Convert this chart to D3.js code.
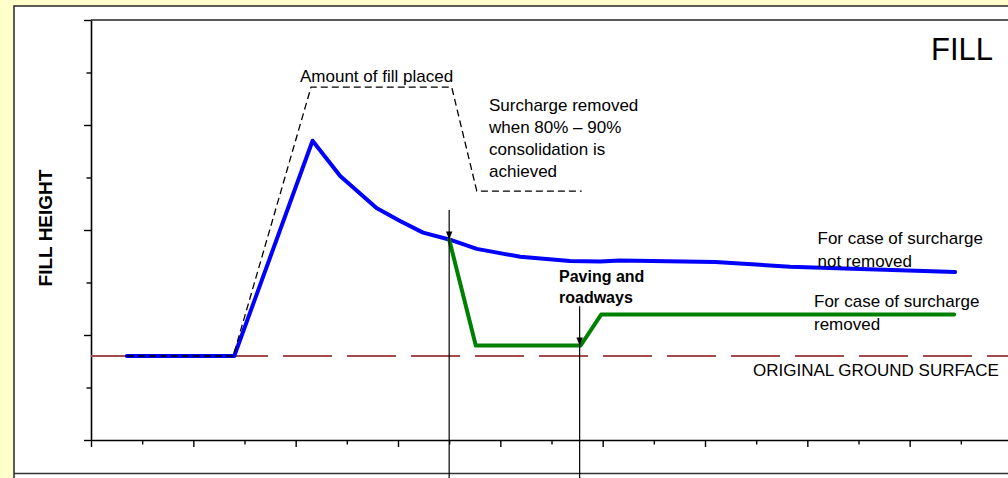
<!DOCTYPE html>
<html>
<head>
<meta charset="utf-8">
<script src="https://cdn.jsdelivr.net/npm/d3@7"></script>
<style>
  html, body { margin: 0; padding: 0; background: #FFFFCC; overflow: hidden; }
  svg { display: block; }
  text { font-family: "Liberation Sans", Arial, sans-serif; fill: #000; }
</style>
</head>
<body>
<svg id="chart" width="1008" height="478"></svg>
<script>
// ---- data ----
const xMajorTicks = [0, 2, 4, 6, 8, 10, 12, 14, 16];
const xMinorTicks = [1, 3, 5, 7, 9, 11, 13, 15, 17];
const yMajorTicks = [0, 2, 4, 6, 8];
const yMinorTicks = [1, 3, 5, 7];

const notRemovedX = [0.70, 2.80, 4.33, 4.87, 5.58, 6.04, 6.49, 7.00, 7.54, 8.39, 9.36, 9.95, 10.34, 12.20, 13.66, 16.89];
const notRemovedY = [1.60, 1.60, 5.70, 5.03, 4.42, 4.17, 3.95, 3.82, 3.64, 3.49, 3.41, 3.40, 3.42, 3.39, 3.30, 3.20];

const removedX = [7.00, 7.52, 9.57, 9.97, 16.87];
const removedY = [3.82, 1.80, 1.80, 2.39, 2.39];

const fillPlacedX = [0.70, 2.78, 4.30, 7.05, 7.54, 9.59];
const fillPlacedY = [1.60, 1.60, 6.72, 6.72, 4.74, 4.74];

const groundLevel = 1.6;

const arrowX    = [7.00, 9.55];
const arrowTopY = [4.38, 2.55];
const arrowTipY = [3.82, 1.80];

// ---- layout ----
const svg = d3.select("#chart");
const W = 1008, H = 478;

const x = d3.scaleLinear().domain([0, 18]).range([91, 1012]);
const y = d3.scaleLinear().domain([0, 8]).range([440, 20]);

// outer white panel
svg.append("rect")
  .attr("x", 14).attr("y", 6).attr("width", 1100).attr("height", 600)
  .attr("fill", "#fff").attr("stroke", "#333").attr("stroke-width", 1.6);
svg.append("line")
  .attr("x1", 14).attr("x2", 1100).attr("y1", 473.5).attr("y2", 473.5)
  .attr("stroke", "#333").attr("stroke-width", 1.6);

// plot top border
svg.append("line")
  .attr("x1", x(0)).attr("x2", x(18)).attr("y1", y(8)).attr("y2", y(8))
  .attr("stroke", "#222").attr("stroke-width", 1.6);

// axes
function styleAxis(g) {
  g.selectAll("path.domain").attr("stroke", "#000").attr("stroke-width", 1.6);
  g.selectAll(".tick line").attr("stroke", "#000").attr("stroke-width", 1.4);
  g.selectAll(".tick text").remove();
}
svg.append("g").attr("transform", `translate(0,${y(0)})`)
  .call(d3.axisBottom(x).tickValues(xMajorTicks).tickSize(7).tickSizeOuter(0).tickFormat(""))
  .call(styleAxis);
svg.append("g").attr("transform", `translate(0,${y(0)})`)
  .call(d3.axisBottom(x).tickValues(xMinorTicks).tickSize(4.5).tickSizeOuter(0).tickFormat(""))
  .call(g => g.select("path.domain").remove())
  .call(styleAxis);
svg.append("g").attr("transform", `translate(${x(0)},0)`)
  .call(d3.axisLeft(y).tickValues(yMajorTicks).tickSize(7).tickSizeOuter(0).tickFormat(""))
  .call(styleAxis);
svg.append("g").attr("transform", `translate(${x(0)},0)`)
  .call(d3.axisLeft(y).tickValues(yMinorTicks).tickSize(4.5).tickSizeOuter(0).tickFormat(""))
  .call(g => g.select("path.domain").remove())
  .call(styleAxis);

// ground surface (long dash)
svg.append("line")
  .attr("x1", x(0)).attr("x2", x(18)).attr("y1", y(groundLevel)).attr("y2", y(groundLevel))
  .attr("stroke", "#A34A4A").attr("stroke-width", 2)
  .attr("stroke-dasharray", "49,15");

const line = d3.line().x(d => x(d[0])).y(d => y(d[1]));

// not removed (blue)
svg.append("path")
  .datum(notRemovedX.map((v, i) => [v, notRemovedY[i]]))
  .attr("d", line).attr("fill", "none")
  .attr("stroke", "#0000FF").attr("stroke-width", 4)
  .attr("stroke-linejoin", "round").attr("stroke-linecap", "round");

// fill placed (black dashed)
svg.append("path")
  .datum(fillPlacedX.map((v, i) => [v, fillPlacedY[i]]))
  .attr("d", line).attr("fill", "none")
  .attr("stroke", "#000").attr("stroke-width", 1.3)
  .attr("stroke-dasharray", "7,4");

// removed (green)
svg.append("path")
  .datum(removedX.map((v, i) => [v, removedY[i]]))
  .attr("d", line).attr("fill", "none")
  .attr("stroke", "#008000").attr("stroke-width", 4)
  .attr("stroke-linejoin", "round").attr("stroke-linecap", "round");

// arrows
arrowX.forEach((ax, i) => {
  const px = x(ax);
  svg.append("line")
    .attr("x1", px).attr("x2", px).attr("y1", y(arrowTopY[i])).attr("y2", H + 5)
    .attr("stroke", "#000").attr("stroke-width", 1.2);
  const ty = y(arrowTipY[i]);
  svg.append("path")
    .attr("d", `M${px},${ty} L${px - 3.2},${ty - 8} L${px + 3.2},${ty - 8} Z`)
    .attr("fill", "#000");
});

// texts
svg.append("text")
  .attr("transform", "translate(52,228) rotate(-90)")
  .attr("x", 0).attr("y", 0)
  .attr("text-anchor", "middle").attr("font-size", 19).attr("font-weight", "bold")
  .text("FILL HEIGHT");

svg.append("text").attr("x", 931).attr("y", 60).attr("font-size", 31).text("FILL");

svg.append("text").attr("x", 300).attr("y", 82).attr("font-size", 17).text("Amount of fill placed");

const surchargeLines = ["Surcharge removed", "when 80% \u2013 90%", "consolidation is", "achieved"];
surchargeLines.forEach((t, i) => {
  svg.append("text").attr("x", 489).attr("y", 110.5 + i * 22.3).attr("font-size", 17).text(t);
});

["For case of surcharge", "not removed"].forEach((t, i) => {
  svg.append("text").attr("x", 817.5).attr("y", 244 + i * 22.6).attr("font-size", 17).text(t);
});
["For case of surcharge", "removed"].forEach((t, i) => {
  svg.append("text").attr("x", 814).attr("y", 307.3 + i * 22.6).attr("font-size", 17).text(t);
});

svg.append("text").attr("x", 753).attr("y", 375.5).attr("font-size", 17).text("ORIGINAL GROUND SURFACE");

["Paving and", "roadways"].forEach((t, i) => {
  svg.append("text").attr("x", 559).attr("y", 281.5 + i * 21.8)
    .attr("font-size", 16).attr("font-weight", "bold").text(t);
});
</script>
</body>
</html>
